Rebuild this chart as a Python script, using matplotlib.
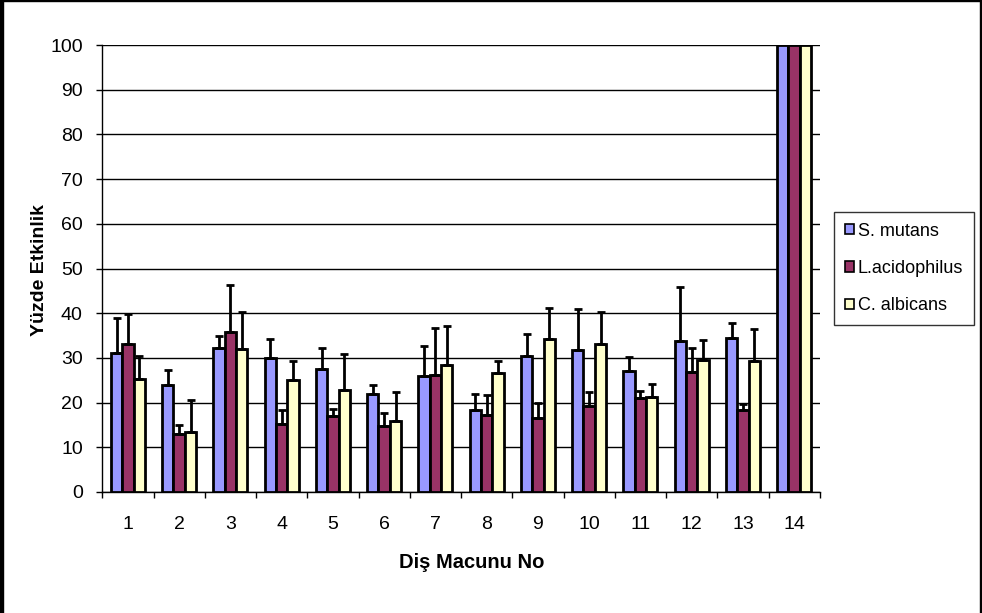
import matplotlib
matplotlib.use("Agg")
import matplotlib.pyplot as plt
from matplotlib.patches import Rectangle
import numpy as np

# Values
groups = [str(i) for i in range(1, 15)]
series = ["S. mutans", "L.acidophilus", "C. albicans"]

s_mutans = [31.1, 24.0, 32.2, 30.0, 27.5, 21.9, 26.0, 18.3, 30.4, 31.8, 27.1, 33.8, 34.5, 100]
s_mutans_err = [7.9, 3.4, 2.8, 4.2, 4.7, 2.0, 6.7, 3.6, 5.0, 9.1, 3.1, 12.1, 3.3, 0]

l_acid = [33.0, 13.0, 35.9, 15.2, 17.1, 14.8, 26.2, 17.2, 16.6, 19.3, 21.0, 26.8, 18.3, 100]
l_acid_err = [6.8, 2.0, 10.3, 3.2, 1.5, 2.9, 10.6, 4.5, 3.4, 3.1, 1.6, 5.4, 1.4, 0]

c_alb = [25.2, 13.5, 32.1, 25.0, 22.9, 15.9, 28.4, 26.6, 34.2, 33.2, 21.3, 29.6, 29.4, 100]
c_alb_err = [5.2, 7.1, 8.2, 4.2, 8.0, 6.5, 8.8, 2.6, 7.0, 7.0, 2.9, 4.4, 7.1, 0]

colors = ["#9999FF", "#993366", "#FFFFCC"]

plt.rcParams['font.family'] = ['Liberation Sans', 'DejaVu Sans']

fig = plt.figure(figsize=(9.82, 6.13), dpi=100)
ax = fig.add_axes([102.3 / 982, 1 - 492 / 613, (819.8 - 102.3) / 982, (492 - 45) / 613])

x = np.arange(len(groups))
w = 0.222
data = [(s_mutans, s_mutans_err), (l_acid, l_acid_err), (c_alb, c_alb_err)]
for k, (vals, errs) in enumerate(data):
    pos = x + (k - 1) * w
    ax.bar(pos, vals, width=w, color=colors[k], edgecolor='black', linewidth=2.0,
           label=series[k], zorder=3)
    vals = np.array(vals)
    errs = np.array(errs)
    m = errs > 0
    ax.errorbar(pos[m], vals[m], yerr=[np.zeros(m.sum()), errs[m]], fmt='none',
                ecolor='black', elinewidth=2.0, capsize=3.2, capthick=2.0, zorder=4)

ax.set_xlim(-0.5, len(groups) - 0.5)
ax.set_ylim(0, 100)
ax.set_yticks(np.arange(0, 101, 10))
ax.yaxis.grid(True, color='black', linewidth=1.0, zorder=0)
ax.set_axisbelow(True)

ax.set_xticks(x)
ax.set_xticklabels(groups)
ax.set_xticks(np.arange(-0.5, len(groups)), minor=True)
ax.tick_params(axis='x', which='major', length=0, pad=17, labelsize=14)
ax.tick_params(axis='x', which='minor', length=4, width=1, direction='out')
ax.tick_params(axis='y', length=4, width=1, direction='out', pad=10, labelsize=14)

for side in ['top', 'right']:
    ax.spines[side].set_visible(False)
for side in ['left', 'bottom']:
    ax.spines[side].set_linewidth(1)
    ax.spines[side].set_color('black')

fig.text(472 / 982, 1 - 562 / 613, "Diş Macunu No", ha='center', va='center',
         fontsize=14.5, fontweight='bold')
fig.text(40 / 982, 1 - 270 / 613, "Yüzde Etkinlik", ha='center', va='center',
         rotation=90, fontsize=14, fontweight='bold')

leg = ax.legend(loc='center', bbox_to_anchor=(904 / 982, 1 - 268.5 / 613),
                bbox_transform=fig.transFigure, frameon=True, fancybox=False,
                fontsize=13, handlelength=0.5, handleheight=0.5, handletextpad=0.2,
                labelspacing=1.13, borderpad=0.6, borderaxespad=0)
leg.get_frame().set_edgecolor('black')
leg.get_frame().set_linewidth(1)
for h in leg.legend_handles:
    h.set_linewidth(1.2)

# figure border
fig.patches.append(Rectangle((0, 0), 3 / 982, 1, transform=fig.transFigure,
                             color='black', zorder=10))
fig.patches.append(Rectangle((0, 1 - 1 / 613), 1, 1 / 613, transform=fig.transFigure,
                             color='black', zorder=10))
fig.patches.append(Rectangle((1 - 2 / 982, 0), 2 / 982, 1, transform=fig.transFigure,
                             color='black', zorder=10))

fig.savefig("out.png", dpi=100)
